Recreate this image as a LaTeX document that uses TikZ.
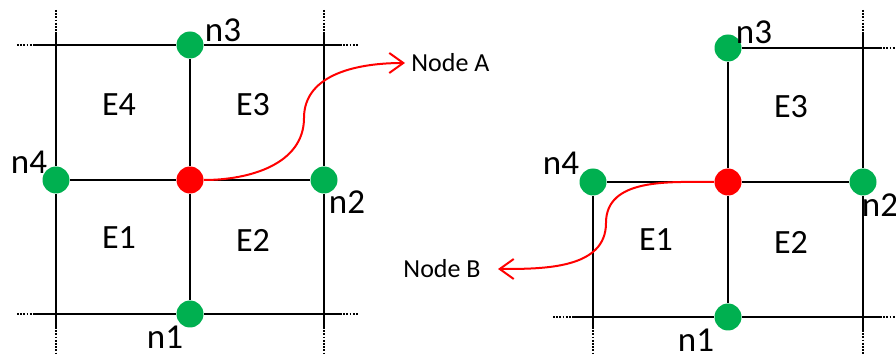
\documentclass[tikz,border=0pt]{standalone}
\usepackage{fontspec}
\setmainfont{Carlito}
\usetikzlibrary{arrows.meta,positioning}
\definecolor{dotgreen}{RGB}{0,176,80}
\definecolor{dotred}{RGB}{255,0,0}
\tikzset{
  mesh/.style={line width=1.3pt},
  ext/.style={line width=0.9pt,dash pattern=on 0.9pt off 0.7pt},
  gdot/.style={circle,fill=dotgreen,minimum size=13.5pt,inner sep=0pt},
  rdot/.style={circle,fill=dotred,minimum size=13.5pt,inner sep=0pt},
  elem/.style={font=\fontsize{17}{20}\selectfont,inner sep=0pt},
  nlab/.style={font=\fontsize{17.5}{20}\selectfont,inner sep=0pt},
  ptr/.style={font=\fontsize{13}{15}\selectfont,inner sep=0pt},
  link/.style={red,line width=1pt,->,>={Straight Barb[length=7pt,width=10pt]}}
}
\begin{document}
\begin{tikzpicture}[x=0.5pt,y=-0.5pt]
            \useasboundingbox (0,0) rectangle (896,358);

            % Left mesh: mesh nodes
            \node[gdot] (ln1) at (190,314) {};
            \node[gdot] (ln2) at (324,180) {};
            \node[gdot] (ln3) at (190,45) {};
            \node[gdot] (ln4) at (56,180) {};
            \node[rdot] (lc) at (190,180) {};
            \coordinate (ltl) at (56,45);
            \coordinate (ltr) at (324,45);
            \coordinate (lbl) at (56,314);
            \coordinate (lbr) at (324,314);

            % Left mesh: element edges
            \draw[mesh] ([xshift=-10.5pt]ltl) -- (ln3) -- ([xshift=8pt]ltr);
            \draw[mesh] ([xshift=-10.5pt]lbl) -- (ln1) -- ([xshift=8pt]lbr);
            \draw[mesh] (ln4) -- (lc) -- (ln2);
            \draw[mesh] ([yshift=6pt]ltl) -- (ln4) -- ([yshift=-6.5pt]lbl);
            \draw[mesh] ([yshift=6pt]ltr) -- (ln2) -- ([yshift=-6.5pt]lbr);
            \draw[mesh] (ln3) -- (lc) -- (ln1);

            % Left mesh: continuation
            \draw[ext] ([xshift=-19.5pt]ltl) -- ([xshift=-10.5pt]ltl);
            \draw[ext] ([xshift=8pt]ltr) -- ([xshift=17pt]ltr);
            \draw[ext] ([xshift=-19.5pt]lbl) -- ([xshift=-10.5pt]lbl);
            \draw[ext] ([xshift=8pt]lbr) -- ([xshift=17pt]lbr);
            \draw[ext] ([xshift=-17pt]ln4) -- (ln4.west);
            \draw[ext] (ln2.east) -- ([xshift=17pt]ln2);
            \draw[ext] ([yshift=17.5pt]ltl) -- ([yshift=6pt]ltl);
            \draw[ext] ([yshift=17.5pt]ltr) -- ([yshift=6pt]ltr);
            \draw[ext] ([yshift=-6.5pt]lbl) -- ([yshift=-19.5pt]lbl);
            \draw[ext] ([yshift=-6.5pt]lbr) -- ([yshift=-19.5pt]lbr);
            \draw[ext] ([yshift=19pt]ln3) -- (ln3.north);
            \draw[ext] (ln1.south) -- ([yshift=-19.5pt]ln1);

            % Left mesh: labels
            \node[nlab] (ln3l) at (223,30) {n3};
            \node[nlab] (ln4l) at (29,162) {n4};
            \node[nlab] (ln2l) at (347,202) {n2};
            \node[nlab] (ln1l) at (165,337) {n1};
            \node[elem] (le4) at (119,105) {E4};
            \node[elem] (le3) at (253,105) {E3};
            \node[elem] (le1) at (119,238) {E1};
            \node[elem] (le2) at (253,240) {E2};

            % Right mesh: mesh nodes
            \node[gdot] (rn1) at (728,317) {};
            \node[gdot] (rn2) at (863,182) {};
            \node[gdot] (rn3) at (728,48) {};
            \node[gdot] (rn4) at (593,182) {};
            \node[rdot] (rc) at (728,182) {};
            \coordinate (rtr) at (863,48);
            \coordinate (rbl) at (593,317);
            \coordinate (rbr) at (863,317);

            % Right mesh: element edges
            \draw[mesh] (rn3) -- ([xshift=8.5pt]rtr);
            \draw[mesh] (rn4) -- (rc) -- (rn2);
            \draw[mesh] ([xshift=-10pt]rbl) -- (rn1) -- ([xshift=8.5pt]rbr);
            \draw[mesh] (rn4) -- ([yshift=-5pt]rbl);
            \draw[mesh] (rn3) -- (rc) -- (rn1);
            \draw[mesh] ([yshift=7.5pt]rtr) -- (rn2) -- ([yshift=-6.5pt]rbr);

            % Right mesh: continuation
            \draw[ext] ([xshift=8.5pt]rtr) -- ([xshift=17pt]rtr);
            \draw[ext] ([xshift=-17pt]rn4) -- (rn4.west);
            \draw[ext] (rn2.east) -- ([xshift=17pt]rn2);
            \draw[ext] ([xshift=-20pt]rbl) -- ([xshift=-10pt]rbl);
            \draw[ext] ([xshift=8.5pt]rbr) -- ([xshift=17pt]rbr);
            \draw[ext] ([yshift=-5pt]rbl) -- ([yshift=-19pt]rbl);
            \draw[ext] ([yshift=19pt]rn3) -- (rn3.north);
            \draw[ext] (rn1.south) -- ([yshift=-19pt]rn1);
            \draw[ext] ([yshift=19pt]rtr) -- ([yshift=7.5pt]rtr);
            \draw[ext] ([yshift=-6.5pt]rbr) -- ([yshift=-19pt]rbr);

            % Right mesh: labels
            \node[nlab] (rn3l) at (754,32) {n3};
            \node[nlab] (rn4l) at (561,163) {n4};
            \node[nlab] (rn2l) at (880,205) {n2};
            \node[nlab] (rn1l) at (696,340) {n1};
            \node[elem] (re3) at (791,107) {E3};
            \node[elem] (re1) at (656,240) {E1};
            \node[elem] (re2) at (791,242) {E2};

            % Pointers to the nodes
            \node[ptr,anchor=west,inner xsep=3pt] (nodeA) at (405,63) {Node A};
            \node[ptr,anchor=east,inner xsep=8.5pt] (nodeB) at (498,269) {Node B};
            \coordinate (bendA) at (304,118);
            \coordinate (bendB) at (606,223);
            \draw[link] (lc) to[out=0,in=-90] (bendA) to[out=90,in=180] (nodeA.west);
            \draw[link] (rc) to[out=180,in=90] (bendB) to[out=-90,in=0] (nodeB.east);

        \end{tikzpicture}
\end{document}
